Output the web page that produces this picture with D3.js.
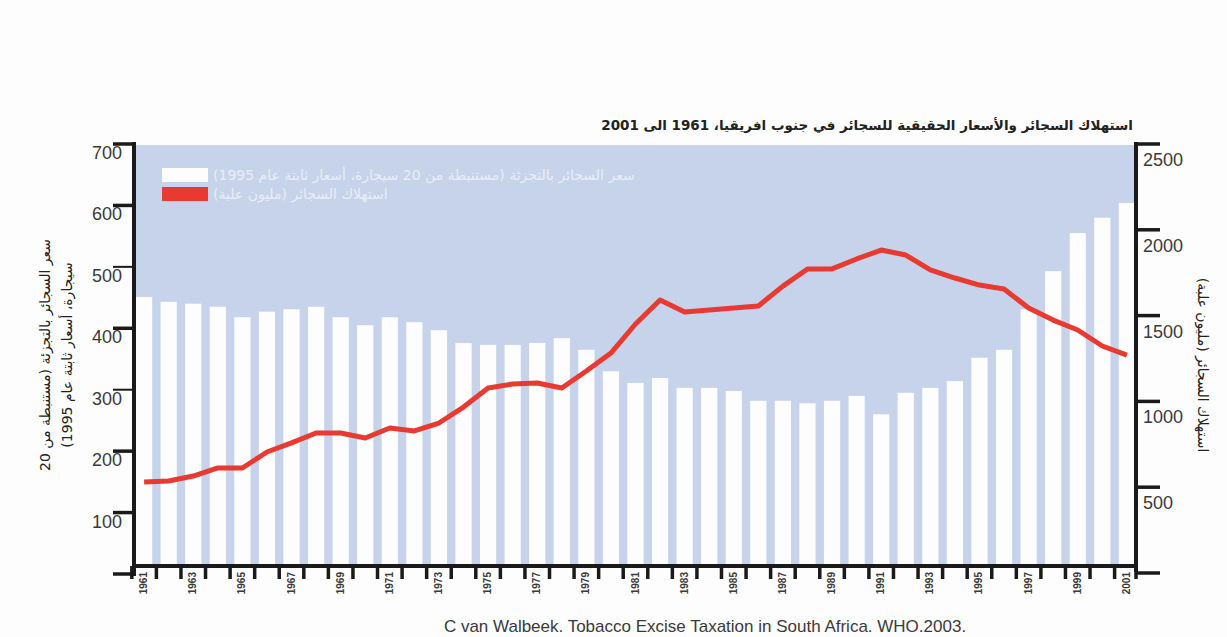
<!DOCTYPE html>
<html>
<head>
<meta charset="utf-8">
<script src="https://cdn.jsdelivr.net/npm/d3@7"></script>
<style>
  body { margin: 0; background: #fdfdfd; }
  svg { display: block; }
  .num { font-family: "Liberation Sans", Arial, sans-serif; fill: #3a3a3a; }
  .ar { font-family: "DejaVu Sans", sans-serif; }
</style>
</head>
<body>
<script>
'use strict';

var width = 1227;
var height = 637;

// years 1961..2001
var years = d3.range(1961, 2002);

// retail price of cigarettes, per 20 cigarettes, constant 1995 prices (left axis)
var prices = [451, 443, 440, 435, 418, 427, 431, 435, 418, 405,
  418, 410, 397, 376, 373, 373, 376, 384, 365, 330,
  311, 319, 303, 303, 298, 282, 282, 278, 282, 290,
  260, 295, 303, 314, 352, 365, 431, 493, 555, 580, 604];

// cigarette consumption, million packs (right axis)
var consumption = [530, 536, 565, 612, 612, 705, 758, 816, 816, 787,
  845, 828, 874, 967, 1078, 1101, 1107, 1078, 1177, 1282,
  1451, 1591, 1521, 1533, 1544, 1556, 1672, 1772, 1772, 1830,
  1882, 1853, 1766, 1719, 1678, 1655, 1544, 1474, 1416, 1323, 1270];

var leftTicks = [0, 100, 200, 300, 400, 500, 600, 700];
var rightTicks = [0, 500, 1000, 1500, 2000, 2500];
var yearLabels = years.filter(function (d) { return d % 2 === 1; });

var titleText = 'استهلاك السجائر والأسعار الحقيقية للسجائر في جنوب افريقيا، 1961 الى 2001';
var legendPrice = 'سعر السجائر بالتجزئة (مستنبطة من 20 سيجارة، أسعار ثابتة عام 1995)';
var legendCons = 'استهلاك السجائر (مليون علبة)';
var leftLabel1 = 'سعر السجائر بالتجزئة (مستنبطة من 20';
var leftLabel2 = 'سيجارة، أسعار ثابتة عام 1995)';
var rightLabel = 'استهلاك السجائر (مليون علبة)';
var source = 'C van Walbeek. Tobacco Excise Taxation in South Africa. WHO.2003.';

var plotLeft = 135, plotRight = 1135, plotTop = 145, plotBottom = 566;
var red = '#e83a30';

var svg = d3.select('body').append('svg').attr('width', width).attr('height', height);

var x = d3.scaleBand().domain(years).range([136, 1135]).paddingInner(0.34).paddingOuter(0);
var yL = d3.scaleLinear().domain([0, 700]).range([574, 144]);
var yR = d3.scaleLinear().domain([0, 2500]).range([573, 144]);

// plot background
svg.append('rect').attr('x', plotLeft).attr('y', plotTop)
  .attr('width', plotRight - plotLeft).attr('height', plotBottom - plotTop)
  .attr('fill', '#c6d3ea');

// bars
svg.selectAll('.bar').data(years).enter().append('rect')
  .attr('class', 'bar')
  .attr('x', function (d) { return x(d); })
  .attr('width', x.bandwidth())
  .attr('y', function (d, i) { return yL(prices[i]); })
  .attr('height', function (d, i) { return plotBottom - yL(prices[i]); })
  .attr('fill', '#fdfdfd');

// consumption line
var line = d3.line()
  .x(function (d, i) { return x(years[i]) + x.bandwidth() / 2; })
  .y(function (d) { return yR(d); });

svg.append('path').datum(consumption)
  .attr('d', line)
  .attr('fill', 'none')
  .attr('stroke', red)
  .attr('stroke-width', 5)
  .attr('stroke-linejoin', 'round');

// left axis
var gL = svg.append('g');
gL.append('line').attr('x1', 134).attr('x2', 134).attr('y1', 142).attr('y2', 576)
  .attr('stroke', '#1a1a1a').attr('stroke-width', 4);
gL.selectAll('.lt').data(leftTicks).enter().append('line')
  .attr('x1', 113).attr('x2', 134)
  .attr('y1', function (d) { return yL(d); })
  .attr('y2', function (d) { return yL(d); })
  .attr('stroke', '#1a1a1a')
  .attr('stroke-width', function (d) { return (d === 500 || d === 300) ? 2 : 3.5; });
gL.selectAll('.ll').data(leftTicks.filter(function (d) { return d > 0; })).enter().append('text')
  .attr('class', 'num')
  .attr('x', 122)
  .attr('y', function (d) { return yL(d) + 15; })
  .attr('text-anchor', 'end')
  .attr('font-size', 18)
  .text(function (d) { return d; });

// right axis
var gR = svg.append('g');
gR.append('line').attr('x1', 1136).attr('x2', 1136).attr('y1', 142).attr('y2', 572)
  .attr('stroke', '#1a1a1a').attr('stroke-width', 4);
gR.selectAll('.rt').data(rightTicks).enter().append('line')
  .attr('x1', 1136).attr('x2', 1160)
  .attr('y1', function (d) { return yR(d); })
  .attr('y2', function (d) { return yR(d); })
  .attr('stroke', '#1a1a1a')
  .attr('stroke-width', 3.5);
gR.selectAll('.rl').data(rightTicks.filter(function (d) { return d > 0; })).enter().append('text')
  .attr('class', 'num')
  .attr('x', 1143)
  .attr('y', function (d) { return yR(d) + 22; })
  .attr('font-size', 18)
  .text(function (d) { return d; });

// x axis
var gX = svg.append('g');
gX.append('line').attr('x1', 132).attr('x2', 1138).attr('y1', plotBottom).attr('y2', plotBottom)
  .attr('stroke', '#1a1a1a').attr('stroke-width', 4);
gX.selectAll('.xt').data(years.concat([2002])).enter().append('line')
  .attr('x1', function (d) { return d === 2002 ? 1136 : x(d) - x.step() * 0.17; })
  .attr('x2', function (d) { return d === 2002 ? 1136 : x(d) - x.step() * 0.17; })
  .attr('y1', plotBottom)
  .attr('y2', plotBottom + 13)
  .attr('stroke', '#1a1a1a')
  .attr('stroke-width', 3.5);
gX.selectAll('.xl').data(yearLabels).enter().append('text')
  .attr('class', 'num')
  .attr('transform', function (d) {
    return 'translate(' + (x(d) + x.bandwidth() / 2 + 3) + ',' + (plotBottom + 6) + ') rotate(-90)';
  })
  .attr('text-anchor', 'end')
  .attr('font-size', 10)
  .attr('font-weight', 'bold')
  .attr('fill', '#333')
  .text(function (d) { return d; });

// title
svg.append('text').attr('class', 'ar')
  .attr('x', 1133).attr('y', 130)
  .attr('direction', 'rtl')
  .attr('text-anchor', 'start')
  .attr('font-size', 13.5)
  .attr('font-weight', 'bold')
  .attr('fill', '#222')
  .text(titleText);

// legend
svg.append('rect').attr('x', 162).attr('y', 168).attr('width', 46).attr('height', 14).attr('fill', '#fdfdfd');
svg.append('rect').attr('x', 162).attr('y', 187).attr('width', 46).attr('height', 14).attr('fill', red);
svg.append('text').attr('class', 'ar')
  .attr('x', 213).attr('y', 180)
  .attr('direction', 'rtl').attr('text-anchor', 'end')
  .attr('font-size', 14).attr('fill', '#e9eef7')
  .text(legendPrice);
svg.append('text').attr('class', 'ar')
  .attr('x', 213).attr('y', 199)
  .attr('direction', 'rtl').attr('text-anchor', 'end')
  .attr('font-size', 14).attr('fill', '#e9eef7')
  .text(legendCons);

// left axis title (two lines)
var lt = svg.append('text').attr('class', 'ar')
  .attr('transform', 'translate(50,355) rotate(-90)')
  .attr('direction', 'rtl')
  .attr('text-anchor', 'middle')
  .attr('font-size', 14)
  .attr('fill', '#222');
lt.append('tspan').attr('x', 0).attr('dy', 0).text(leftLabel1);
lt.append('tspan').attr('x', 0).attr('dy', 22).text(leftLabel2);

// right axis title
svg.append('text').attr('class', 'ar')
  .attr('transform', 'translate(1198,365) rotate(90)')
  .attr('direction', 'rtl')
  .attr('text-anchor', 'middle')
  .attr('font-size', 14)
  .attr('fill', '#222')
  .text(rightLabel);

// source
svg.append('text').attr('class', 'num')
  .attr('x', 705).attr('y', 632)
  .attr('text-anchor', 'middle')
  .attr('font-size', 17)
  .attr('fill', '#222')
  .text(source);
</script>
</body>
</html>
